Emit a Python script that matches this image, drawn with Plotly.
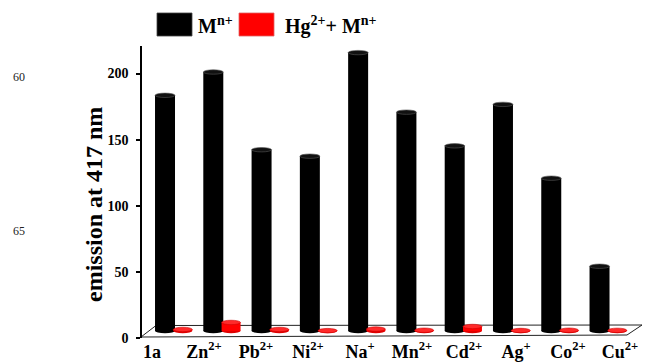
import plotly.graph_objects as go

# ---- data -------------------------------------------------------------
ions = ["1a", "Zn2+", "Pb2+", "Ni2+", "Na+", "Mn2+", "Cd2+", "Ag+", "Co2+", "Cu2+"]
ion_labels = ["1a", "Zn<sup>2+</sup>", "Pb<sup>2+</sup>", "Ni<sup>2+</sup>", "Na<sup>+</sup>",
              "Mn<sup>2+</sup>", "Cd<sup>2+</sup>", "Ag<sup>+</sup>", "Co<sup>2+</sup>", "Cu<sup>2+</sup>"]
emission_m = [182, 200, 140, 135, 215, 169, 143, 175, 118, 50]          # M^n+
emission_hg_m = [1.2, 6.6, 1.2, 0.3, 1.5, 0.6, 3.5, 0.4, 0.6, 0.5]     # Hg2+ + M^n+
series_names = ["M<sup>n+</sup>", "Hg<sup>2+</sup>+ M<sup>n+</sup>"]
y_ticks = [0, 50, 100, 150, 200]

# ---- geometry (pixels of the 645x363 page) ----------------------------
W, H = 645, 363
L, R, T, B = 142, 3, 46, 25
PW, PH = W - L - R, H - T - B
PX_PER_UNIT = 1.295
FLOOR_MID = 331          # where the bars stand (middle depth of the floor)
AXIS_TOP = 52

def px(x):
    return (x - L) / PW

def py(y):
    return (H - B - y) / PH

SERIF = "Liberation Serif"
idx = list(range(len(ions)))

BLACK, RED = "#000000", "#ff0000"
w_black, w_red = 0.414, 0.393
shift = 0.184            # half distance between the two series centres

fig = go.Figure()
fig.add_trace(go.Bar(x=idx, y=emission_m, width=w_black, offset=-shift - w_black / 2,
                     marker=dict(color=BLACK, line=dict(width=0)), name="M n+",
                     showlegend=False, hoverinfo="skip"))
fig.add_trace(go.Bar(x=idx, y=emission_hg_m, width=w_red, offset=shift - w_red / 2,
                     marker=dict(color=RED, line=dict(width=0)), name="Hg2+ + M n+",
                     showlegend=False, hoverinfo="skip"))
# carrier for the category label axis
fig.add_trace(go.Scatter(x=idx, y=[0] * len(idx), xaxis="x2", yaxis="y",
                         mode="markers", marker=dict(opacity=0), showlegend=False,
                         hoverinfo="skip"))

shapes = []
# floor of the pseudo-3D chart
shapes.append(dict(type="path", xref="paper", yref="paper", layer="below",
                   path=f"M {px(141)} {py(337)} L {px(627)} {py(335)} L {px(642)} {py(325)} "
                        f"L {px(156)} {py(325.5)} Z",
                   line=dict(color="#222", width=1), fillcolor="rgba(0,0,0,0)"))

# cylinder caps and bases
ry = 2.2 / PX_PER_UNIT
for i, (vb, vr) in enumerate(zip(emission_m, emission_hg_m)):
    cb, cr = i - shift, i + shift
    hb, hr = w_black / 2, w_red / 2
    shapes.append(dict(type="circle", xref="x", yref="y", layer="below",
                       x0=cb - hb, x1=cb + hb, y0=-ry, y1=ry,
                       fillcolor=BLACK, line=dict(width=0)))
    shapes.append(dict(type="circle", xref="x", yref="y", layer="below",
                       x0=cr - hr, x1=cr + hr, y0=-ry, y1=ry,
                       fillcolor="#e00000", line=dict(width=0)))
    shapes.append(dict(type="circle", xref="x", yref="y", layer="above",
                       x0=cb - hb, x1=cb + hb, y0=vb - ry, y1=vb + ry,
                       fillcolor="#111111", line=dict(color="#555", width=0.6)))
    shapes.append(dict(type="circle", xref="x", yref="y", layer="above",
                       x0=cr - hr, x1=cr + hr, y0=vr - ry, y1=vr + ry,
                       fillcolor="#ff2a2a", line=dict(color="#d00000", width=0.6)))

# legend boxes
shapes.append(dict(type="rect", xref="paper", yref="paper", x0=px(157), x1=px(192),
                   y0=py(36), y1=py(13), fillcolor=BLACK, line=dict(color="#444", width=0.8)))
shapes.append(dict(type="rect", xref="paper", yref="paper", x0=px(239), x1=px(274),
                   y0=py(36), y1=py(13), fillcolor=RED, line=dict(color="#e06060", width=0.8)))

bold20 = dict(family=SERIF, size=20, color="black", weight="bold")
annotations = [
    dict(text=series_names[0], xref="paper", yref="paper", x=px(196), y=py(25),
         xanchor="left", yanchor="middle", showarrow=False, font=bold20),
    dict(text=series_names[1], xref="paper", yref="paper", x=px(283), y=py(25),
         xanchor="left", yanchor="middle", showarrow=False, font=bold20),
    dict(text="emission at 417 nm", xref="paper", yref="paper", x=px(94), y=py(205),
         xanchor="center", yanchor="middle", textangle=-90, showarrow=False,
         font=dict(family=SERIF, size=24, color="black", weight="bold")),
    dict(text="60", xref="paper", yref="paper", x=px(19), y=py(77),
         xanchor="center", yanchor="middle", showarrow=False,
         font=dict(family=SERIF, size=12, color="#222222")),
    dict(text="65", xref="paper", yref="paper", x=px(19), y=py(231),
         xanchor="center", yanchor="middle", showarrow=False,
         font=dict(family=SERIF, size=12, color="#222222")),
]

x_lo = (L - 173.9) / 48.28
x_hi = (L + PW - 173.9) / 48.28
lab_lo = (L - 152) / 52
lab_hi = (L + PW - 152) / 52

fig.update_layout(
    width=W, height=H,
    margin=dict(l=L, r=R, t=T, b=B, autoexpand=False),
    paper_bgcolor="white", plot_bgcolor="white",
    font=dict(family=SERIF, color="black"),
    barmode="overlay",
    showlegend=False,
    shapes=shapes,
    annotations=annotations,
    xaxis=dict(range=[x_lo, x_hi], visible=False, fixedrange=True),
    xaxis2=dict(overlaying="x", anchor="y", side="bottom", range=[lab_lo, lab_hi],
                tickmode="array", tickvals=idx, ticktext=[f"<b>{t}</b>" for t in ion_labels],
                showline=False, showgrid=False, zeroline=False, ticks="",
                ticklabelstandoff=1,
                tickfont=dict(family=SERIF, size=18, color="black")),
    yaxis=dict(range=[-(H - B - FLOOR_MID) / PX_PER_UNIT, (FLOOR_MID - T) / PX_PER_UNIT],
               visible=False, fixedrange=True),
    yaxis2=dict(overlaying="y", anchor="x", side="left",
                domain=[0, (H - B - AXIS_TOP) / PH],
                range=[0, (H - B - AXIS_TOP) / PX_PER_UNIT],
                tickmode="array", tickvals=y_ticks,
                ticktext=[f"<b>{v}</b>" for v in y_ticks],
                showline=True, linecolor="black", linewidth=1.5,
                ticks="outside", ticklen=4, tickwidth=1.5, tickcolor="black",
                ticklabelstandoff=5,
                showgrid=False, zeroline=False,
                tickfont=dict(family=SERIF, size=14, color="black")),
)

# carrier so the tick axis is drawn
fig.add_trace(go.Scatter(x=[0], y=[None], yaxis="y2", mode="markers",
                         marker=dict(opacity=0), showlegend=False, hoverinfo="skip"))

fig.write_html("out.html")
